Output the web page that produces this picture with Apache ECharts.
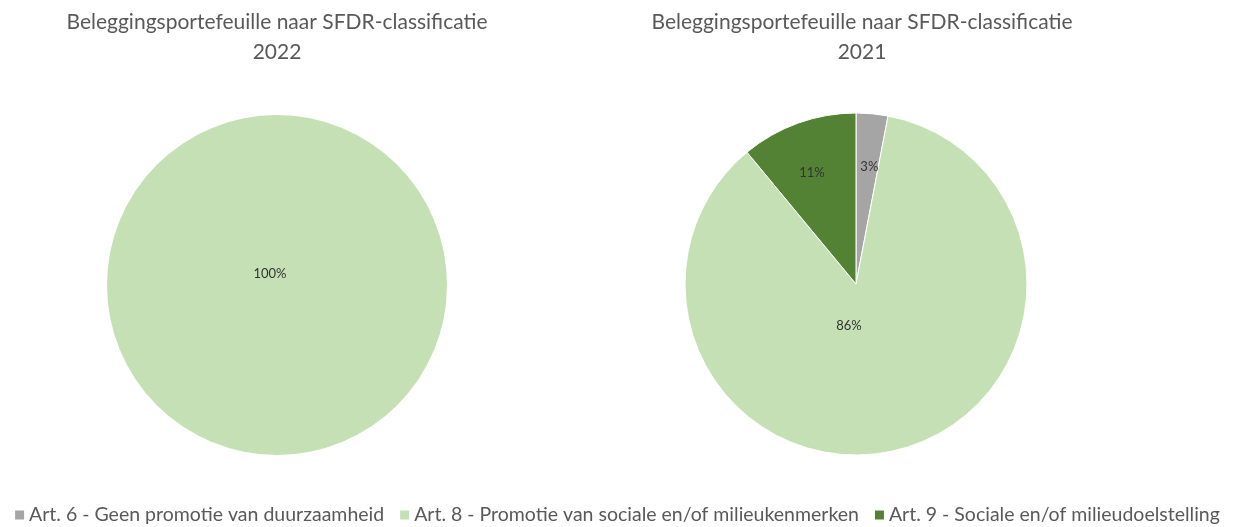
<!DOCTYPE html>
<html><head><meta charset="utf-8">
<script src="https://cdn.jsdelivr.net/npm/echarts@6/dist/echarts.min.js"></script>
<style>html,body{margin:0;padding:0;background:#fff}#c{width:1235px;height:527px}</style>
</head><body><div id="c"></div>
<script>
const categories = [
  'Art. 6 - Geen promotie van duurzaamheid',
  'Art. 8 - Promotie van sociale en/of milieukenmerken',
  'Art. 9 - Sociale en/of milieudoelstelling'
];
const titleText = 'Beleggingsportefeuille naar SFDR-classificatie';
const years = ['2022', '2021'];
const values2022 = [0, 100, 0];
const values2021 = [3, 86, 11];

const colors = ['#a5a5a5', '#c5e0b4', '#548235'];
const offsets2022 = [[0,0], [-7,-99], [0,0]];
const offsets2021 = [[5,-29], [-29,-44], [-14,-28]];

function buildData(vals, offs) {
  return vals.map((v, i) => ({
    name: categories[i], value: v,
    label: v === 0 ? {show:false} : {show:true, offset: offs[i]}
  }));
}

const font = 'Lato, "Open Sans", sans-serif';
const chart = echarts.init(document.getElementById('c'), null, {renderer:'canvas'});
const seriesBase = {
  type: 'pie', startAngle: 90, clockwise: true, avoidLabelOverlap: false,
  label: {position:'inside', formatter: p => p.value + '%', color:'#333', fontSize:13, fontFamily: font},
  labelLine: {show:false}, emphasis: {disabled:true}, animation:false
};
const titleStyle = {color:'#595959', fontSize:21, fontWeight:'normal', fontFamily:font, lineHeight:30};
chart.setOption({
  color: colors,
  title: [
    {text: titleText + '\n' + years[0], left: 272, top: 2, textAlign:'center', textStyle: titleStyle},
    {text: titleText + '\n' + years[1], left: 857, top: 2, textAlign:'center', textStyle: titleStyle}
  ],
  legend: {
    data: categories, top: 505, left: 'center', icon: 'rect', itemWidth: 9, itemHeight: 9,
    itemGap: 16, padding: 0,
    textStyle: {color:'#595959', fontSize:19.5, fontFamily:font}
  },
  series: [
    Object.assign({}, seriesBase, {center:[277,285], radius:170, data: buildData(values2022, offsets2022)}),
    Object.assign({}, seriesBase, {center:[856,284], radius:171,
      itemStyle: {borderColor:'#fff', borderWidth:1},
      data: buildData(values2021, offsets2021)})
  ]
});
</script></body></html>
